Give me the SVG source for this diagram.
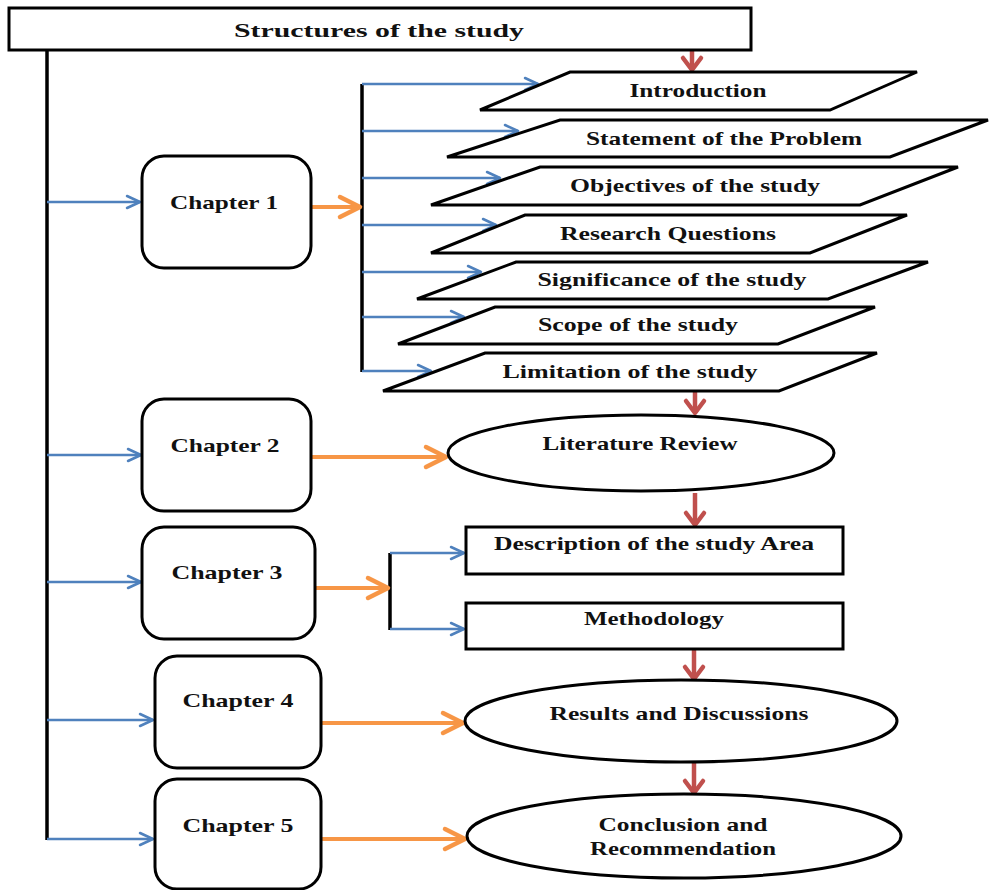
<svg xmlns="http://www.w3.org/2000/svg" width="990" height="890" viewBox="0 0 990 890">
<style>
.box{fill:#fff;stroke:#000;stroke-width:3}
.t{font-family:"Liberation Serif","Times New Roman",serif;font-weight:bold;font-size:19px;fill:#111;text-anchor:middle}
.blk{stroke:#000;stroke-width:3.5;fill:none}
.blue{stroke:#4f81bd;stroke-width:2.5;fill:none;marker-end:url(#mb)}
.orange{stroke:#f79646;stroke-width:4;fill:none;marker-end:url(#mo)}
.red{stroke:#c0504d;stroke-width:4.5;fill:none;marker-end:url(#mr)}
</style>
<defs>
<marker id="mb" markerUnits="userSpaceOnUse" orient="auto" refX="0" refY="0" markerWidth="20" markerHeight="20" overflow="visible"><path d="M-13,-6 L0,0 L-13,6" fill="none" stroke="#4f81bd" stroke-width="2.5" stroke-linejoin="round" stroke-linecap="round"/></marker>
<marker id="mo" markerUnits="userSpaceOnUse" orient="auto" refX="0" refY="0" markerWidth="30" markerHeight="30" overflow="visible"><path d="M-20,-10 L0,0 L-20,10" fill="none" stroke="#f79646" stroke-width="4.5" stroke-linejoin="round" stroke-linecap="round"/></marker>
<marker id="mr" markerUnits="userSpaceOnUse" orient="auto" refX="0" refY="0" markerWidth="30" markerHeight="30" overflow="visible"><path d="M-12,-9 L0,0 L-12,9" fill="none" stroke="#c0504d" stroke-width="4.5" stroke-linejoin="round" stroke-linecap="round"/></marker>
</defs>

<g id="connectors">
<path class="blk" d="M47,50 V840"/>
<path class="blk" d="M362,84 V372"/>
<path class="blk" d="M390,553 V630"/>
<path class="red" d="M692,51 V70"/>
<path class="blue" d="M362,84 H538"/>
<path class="blue" d="M362,131 H518"/>
<path class="blue" d="M362,178 H500"/>
<path class="blue" d="M362,225 H496"/>
<path class="blue" d="M362,272 H481"/>
<path class="blue" d="M362,317 H464"/>
<path class="blue" d="M362,371 H431"/>
<path class="blue" d="M47,202 H140"/>
<path class="blue" d="M47,455 H141"/>
<path class="blue" d="M47,582 H141"/>
<path class="blue" d="M47,720 H153"/>
<path class="blue" d="M47,839 H153"/>
<path class="orange" d="M312,207 H360"/>
<path class="orange" d="M312,457 H446"/>
<path class="orange" d="M316,588 H388"/>
<path class="orange" d="M322,723 H463"/>
<path class="orange" d="M322,839 H465"/>
<path class="blue" d="M390,553 H464"/>
<path class="blue" d="M390,629 H464"/>
<path class="red" d="M695,392 V413"/>
<path class="red" d="M695,493 V525"/>
<path class="red" d="M694,650 V679"/>
<path class="red" d="M694,763 V793"/>
</g>

<g id="title"><rect class="box" x="9" y="8" width="742" height="42"/><text class="t" x="379" y="37" font-size="20" textLength="290" lengthAdjust="spacingAndGlyphs">Structures of the study</text></g>

<g id="ch1"><rect class="box" x="142" y="156" width="169" height="112" rx="22"/><text class="t" x="224" y="209" textLength="108" lengthAdjust="spacingAndGlyphs">Chapter 1</text></g>
<g id="ch2"><rect class="box" x="142" y="399" width="169" height="112" rx="22"/><text class="t" x="225" y="452" textLength="109" lengthAdjust="spacingAndGlyphs">Chapter 2</text></g>
<g id="ch3"><rect class="box" x="142" y="527" width="173" height="112" rx="22"/><text class="t" x="227" y="579" textLength="111" lengthAdjust="spacingAndGlyphs">Chapter 3</text></g>
<g id="ch4"><rect class="box" x="155" y="656" width="166" height="112" rx="22"/><text class="t" x="238" y="707" textLength="111" lengthAdjust="spacingAndGlyphs">Chapter 4</text></g>
<g id="ch5"><rect class="box" x="155" y="779" width="166" height="110" rx="22"/><text class="t" x="238" y="832" textLength="111" lengthAdjust="spacingAndGlyphs">Chapter 5</text></g>

<g id="introduction"><polygon class="box" points="570,72 917,72 830,110 480,110"/><text class="t" x="698" y="97" textLength="137" lengthAdjust="spacingAndGlyphs">Introduction</text></g>
<g id="statement"><polygon class="box" points="560,120 988,120 890,157 447,157"/><text class="t" x="724" y="145" textLength="276" lengthAdjust="spacingAndGlyphs">Statement of the Problem</text></g>
<g id="objectives"><polygon class="box" points="540,167 958,167 860,205 431,205"/><text class="t" x="695" y="192" textLength="250" lengthAdjust="spacingAndGlyphs">Objectives  of the study</text></g>
<g id="research"><polygon class="box" points="525,215 907,215 810,253 431,253"/><text class="t" x="668" y="240" textLength="216" lengthAdjust="spacingAndGlyphs">Research  Questions</text></g>
<g id="significance"><polygon class="box" points="516,262 928,262 828,299 417,299"/><text class="t" x="672" y="286" textLength="269" lengthAdjust="spacingAndGlyphs">Significance  of the study</text></g>
<g id="scope"><polygon class="box" points="495,307 875,307 778,344 398,344"/><text class="t" x="638" y="331" textLength="200" lengthAdjust="spacingAndGlyphs">Scope of the study</text></g>
<g id="limitation"><polygon class="box" points="485,353 877,353 779,391 383,391"/><text class="t" x="630" y="378" textLength="255" lengthAdjust="spacingAndGlyphs">Limitation  of the study</text></g>

<g id="literature"><ellipse class="box" cx="641" cy="453" rx="193" ry="38"/><text class="t" x="640" y="450" textLength="195" lengthAdjust="spacingAndGlyphs">Literature  Review</text></g>
<g id="description"><rect class="box" x="466" y="527" width="377" height="47"/><text class="t" x="654" y="550" textLength="320" lengthAdjust="spacingAndGlyphs">Description  of the study Area</text></g>
<g id="methodology"><rect class="box" x="466" y="603" width="377" height="46"/><text class="t" x="654" y="625" textLength="140" lengthAdjust="spacingAndGlyphs">Methodology</text></g>
<g id="results"><ellipse class="box" cx="681" cy="721" rx="216" ry="41"/><text class="t" x="679" y="720" textLength="259" lengthAdjust="spacingAndGlyphs">Results and Discussions</text></g>
<g id="conclusion"><ellipse class="box" cx="684" cy="836" rx="217" ry="42"/><text class="t" x="683" y="831" textLength="169" lengthAdjust="spacingAndGlyphs">Conclusion and</text><text class="t" x="683" y="855" textLength="186" lengthAdjust="spacingAndGlyphs">Recommendation</text></g>
</svg>
